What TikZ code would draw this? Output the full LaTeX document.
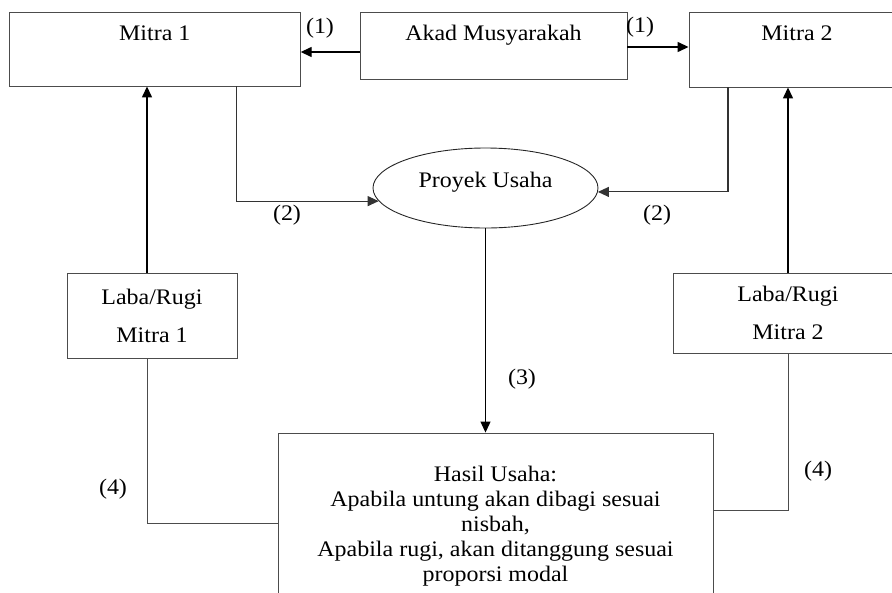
\documentclass[tikz,border=0pt]{standalone}
\usepackage{fontspec}
\setmainfont{Liberation Serif}[FakeStretch=1.08]
\usetikzlibrary{arrows.meta,shapes.geometric}
\begin{document}
\begin{tikzpicture}[x=1pt,y=-1pt,
  every node/.style={font=\fontsize{22.2}{25}\selectfont},
  box/.style={draw=black!70, line width=0.9pt, rectangle, inner sep=0pt},
  oval/.style={draw=black!85, line width=0.9pt, ellipse, inner sep=0pt},
  tl/.style={anchor=base, inner sep=0pt},
  arr/.style={draw=black, line width=1.4pt, -{Triangle[length=11pt,width=10pt]}},
  ln/.style={draw=black!70, line width=0.9pt},
  num/.style={inner sep=0pt}
]
\useasboundingbox (0,0) rectangle (892,592);
\clip (0,0) rectangle (892,592);

% boxes
\node[box, minimum width=291pt, minimum height=74pt,
      label={[tl,yshift=-29pt]north:Mitra 1}] (m1) at (154.75,49) {};
\node[box, minimum width=267pt, minimum height=67pt,
      label={[tl,yshift=-29pt]north:Akad Musyarakah}] (akad) at (493.5,45.5) {};
\node[box, minimum width=216pt, minimum height=75pt,
      label={[tl,yshift=-29pt]north:Mitra 2}] (m2) at (797,49.5) {};
\node[oval, minimum width=225pt, minimum height=80pt,
      label={[tl,yshift=-40pt]north:Proyek Usaha}] (proy) at (485.5,188) {};
\node[box, minimum width=170pt, minimum height=85pt, align=center,
      font=\fontsize{22.2}{38}\selectfont] (lr1) at (152,315.5) {Laba/Rugi\\Mitra 1};
\node[box, minimum width=230pt, minimum height=80pt, align=center,
      font=\fontsize{22.2}{38}\selectfont] (lr2) at (788,313) {Laba/Rugi\\Mitra 2};
\node[box, minimum width=435pt, minimum height=187pt, align=center] (hasil) at (495.5,526.5)
  {Hasil Usaha:\\Apabila untung akan dibagi sesuai\\nisbah,\\Apabila rugi, akan ditanggung sesuai\\proporsi modal};

% connectors
\draw[arr] ([yshift=-6.5pt]akad.west) -- ([yshift=-6.5pt]akad.west -| m1.east);
\draw[arr] ([yshift=-1.5pt]akad.east) -- ([yshift=-1.5pt]akad.east -| m2.west);
\draw[arr, line width=1.1pt, draw=black!80] ([xshift=82pt]m1.south) |- (proy.187);
\draw[arr, line width=1.1pt, draw=black!80] ([xshift=-69pt]m2.south) |- (proy.358);
\draw[arr] ([xshift=-5pt]lr1.north) -- ([xshift=-5pt]lr1.north |- m1.south);
\draw[arr] (lr2.north) -- (lr2.north |- m2.south);
\draw[arr, line width=1.1pt] (proy.south) -- (proy.south |- hasil.north);
\draw[ln] ([yshift=3.5pt]hasil.west) -| ([xshift=-5pt]lr1.south);
\draw[ln] ([yshift=16.5pt]hasil.east) -| (lr2.south);

% step numbers
\node[num] (n1a) at (320,28) {(1)};
\node[num] (n1b) at (640,27.5) {(1)};
\node[num] (n2a) at (287,215) {(2)};
\node[num] (n2b) at (657,215) {(2)};
\node[num] (n3) at (522,379) {(3)};
\node[num] (n4a) at (113,489) {(4)};
\node[num] (n4b) at (818,471) {(4)};
\end{tikzpicture}
\end{document}
